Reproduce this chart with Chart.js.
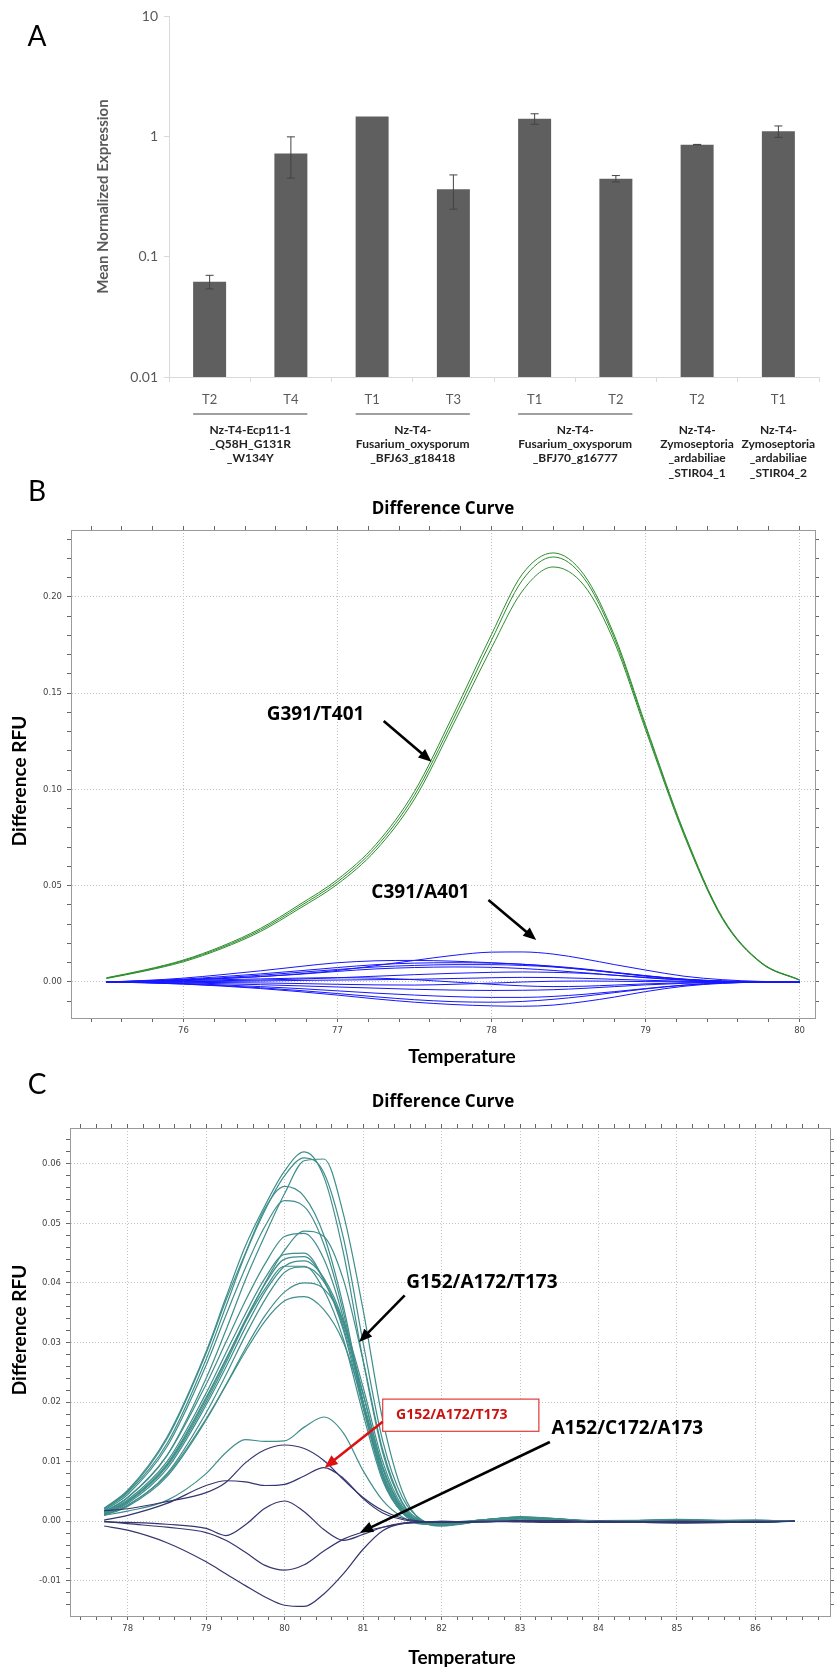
<!DOCTYPE html>
<html>
<head>
<meta charset="utf-8">
<script src="https://cdn.jsdelivr.net/npm/chart.js@4.4.1/dist/chart.umd.min.js"></script>
<style>
  body { margin: 0; background: #fff; }
  #page { position: relative; width: 835px; height: 1670px; overflow: hidden; }
  #page canvas { position: absolute; left: 0; }
</style>
</head>
<body>
<div id="page">
  <canvas id="chartA" width="835" height="490" style="top:0"></canvas>
  <canvas id="chartB" width="835" height="600" style="top:470px"></canvas>
  <canvas id="chartC" width="835" height="610" style="top:1060px"></canvas>
</div>
<script>
// ---- panel A: qPCR expression (log scale) ----
const sampleTicks = ['T2', 'T4', 'T1', 'T3', 'T1', 'T2', 'T2', 'T1'];
const meanExpr = [0.062, 0.72, 1.46, 0.363, 1.40, 0.445, 0.853, 1.10];
const exprErr = [0.008, 0.27, 0, 0.115, 0.14, 0.027, 0.004, 0.12];
const exprTicks = [0.01, 0.1, 1, 10];
const geneSpans = [[0, 1], [2, 3], [4, 5], [6, 6], [7, 7]];
const geneLabels = [
  ['Nz-T4-Ecp11-1', '_Q58H_G131R', '_W134Y'],
  ['Nz-T4-', 'Fusarium_oxysporum', '_BFJ63_g18418'],
  ['Nz-T4-', 'Fusarium_oxysporum', '_BFJ70_g16777'],
  ['Nz-T4-', 'Zymoseptoria', '_ardabiliae', '_STIR04_1'],
  ['Nz-T4-', 'Zymoseptoria', '_ardabiliae', '_STIR04_2'],
];

// ---- panel B: G391/T401 vs C391/A401 difference curves ----
const tempsB = [75.5, 75.75, 76, 76.25, 76.5, 76.75, 77, 77.25, 77.5, 77.75, 78, 78.2, 78.4, 78.6, 78.8, 79, 79.25, 79.5, 79.75, 80];
const greenRfuB = [
  [0.0022, 0.0063, 0.0114, 0.0186, 0.0278, 0.0400, 0.0532, 0.0715, 0.0990, 0.1385, 0.1805, 0.2118, 0.2228, 0.2115, 0.1795, 0.1335, 0.0778, 0.0334, 0.0102, 0.0011],
  [0.0020, 0.0060, 0.0110, 0.0180, 0.0270, 0.0390, 0.0520, 0.0700, 0.0970, 0.1360, 0.1775, 0.2086, 0.2207, 0.2097, 0.1780, 0.1324, 0.0770, 0.0330, 0.0100, 0.0010],
  [0.0018, 0.0057, 0.0105, 0.0174, 0.0262, 0.0380, 0.0508, 0.0685, 0.0950, 0.1335, 0.1735, 0.2030, 0.2155, 0.2060, 0.1760, 0.1310, 0.0762, 0.0326, 0.0098, 0.0009],
];
const blueRfuB = [
  [0, 0.0004, 0.0010, 0.0018, 0.0028, 0.0042, 0.0060, 0.0085, 0.0112, 0.0138, 0.0155, 0.0156, 0.0145, 0.0120, 0.0090, 0.0062, 0.0030, 0.0012, 0.0003, 0],
  [0, 0.0008, 0.0020, 0.0038, 0.0058, 0.0080, 0.0100, 0.0110, 0.0112, 0.0108, 0.0100, 0.0092, 0.0080, 0.0065, 0.0048, 0.0030, 0.0014, 0.0005, 0.0001, 0],
  [0, 0.0006, 0.0015, 0.0028, 0.0042, 0.0058, 0.0075, 0.0090, 0.0098, 0.0100, 0.0098, 0.0092, 0.0082, 0.0068, 0.0050, 0.0033, 0.0015, 0.0005, 0.0001, 0],
  [0, 0.0005, 0.0012, 0.0022, 0.0035, 0.0050, 0.0065, 0.0078, 0.0086, 0.0090, 0.0090, 0.0086, 0.0078, 0.0065, 0.0048, 0.0032, 0.0014, 0.0004, 0.0001, 0],
  [0, 0.0004, 0.0010, 0.0018, 0.0028, 0.0040, 0.0055, 0.0068, 0.0075, 0.0078, 0.0076, 0.0070, 0.0060, 0.0048, 0.0035, 0.0022, 0.0010, 0.0003, 0.0001, 0],
  [0, 0.0002, 0.0004, 0.0007, 0.0010, 0.0015, 0.0022, 0.0030, 0.0038, 0.0045, 0.0050, 0.0052, 0.0050, 0.0045, 0.0035, 0.0024, 0.0011, 0.0003, 0.0001, 0],
  [0, 0.0001, 0.0002, 0.0003, 0.0005, 0.0008, 0.0010, 0.0012, 0.0014, 0.0018, 0.0022, 0.0024, 0.0023, 0.0019, 0.0014, 0.0009, 0.0004, 0.0001, 0, 0],
  [0, -0.0001, -0.0002, -0.0003, -0.0005, -0.0008, -0.0012, -0.0015, -0.0016, -0.0012, -0.0006, 0.0000, 0.0004, 0.0005, 0.0004, 0.0002, 0.0001, 0, 0, 0],
  [0, -0.0002, -0.0005, -0.0009, -0.0014, -0.0020, -0.0026, -0.0032, -0.0038, -0.0042, -0.0044, -0.0043, -0.0040, -0.0033, -0.0024, -0.0015, -0.0007, -0.0002, 0, 0],
  [0, -0.0003, -0.0008, -0.0015, -0.0024, -0.0034, -0.0046, -0.0058, -0.0068, -0.0076, -0.0080, -0.0080, -0.0075, -0.0064, -0.0050, -0.0034, -0.0016, -0.0005, -0.0001, 0],
  [0, -0.0004, -0.0010, -0.0019, -0.0030, -0.0044, -0.0060, -0.0077, -0.0092, -0.0102, -0.0105, -0.0101, -0.0090, -0.0074, -0.0055, -0.0036, -0.0017, -0.0005, -0.0001, 0],
  [0, -0.0004, -0.0011, -0.0021, -0.0034, -0.0050, -0.0068, -0.0088, -0.0105, -0.0117, -0.0124, -0.0126, -0.0120, -0.0102, -0.0078, -0.0050, -0.0022, -0.0007, -0.0001, 0],
  [0, 0.0003, 0.0007, 0.0012, 0.0016, 0.0020, 0.0022, 0.0020, 0.0012, 0.0000, -0.0012, -0.0020, -0.0024, -0.0022, -0.0016, -0.0010, -0.0004, -0.0001, 0, 0],
];
const tempTicksB = [76, 77, 78, 79, 80];
const rfuTicksB = [0, 0.05, 0.10, 0.15, 0.20];

// ---- panel C: G152/A172/T173 vs A152/C172/A173 ----
const tempsC = [77.7, 78, 78.5, 79, 79.25, 79.5, 79.75, 80, 80.25, 80.5, 80.75, 81, 81.25, 81.5, 81.75, 82, 82.5, 83, 83.5, 84, 85, 86, 86.5];
const tealRfuC = [
  [0.0022, 0.0052, 0.0141, 0.0285, 0.0375, 0.0462, 0.0530, 0.0588, 0.0620, 0.0578, 0.0450, 0.0270, 0.0115, 0.0030, -0.0004, -0.0006, 0.0002, 0.0006, 0.0003, 0.0000, 0.0002, -0.0001, 0.0000],
  [0.0015, 0.0040, 0.0110, 0.0240, 0.0320, 0.0405, 0.0480, 0.0550, 0.0605, 0.0608, 0.0515, 0.0355, 0.0170, 0.0050, 0.0000, -0.0008, 0.0000, 0.0008, 0.0004, -0.0002, 0.0001, 0.0002, 0.0000],
  [0.0020, 0.0048, 0.0130, 0.0272, 0.0360, 0.0448, 0.0522, 0.0580, 0.0610, 0.0585, 0.0475, 0.0300, 0.0135, 0.0040, 0.0002, -0.0007, 0.0001, 0.0007, 0.0002, -0.0001, 0.0003, 0.0000, 0.0001],
  [0.0021, 0.0050, 0.0138, 0.0282, 0.0370, 0.0450, 0.0525, 0.0562, 0.0545, 0.0480, 0.0360, 0.0200, 0.0075, 0.0015, -0.0004, -0.0005, 0.0002, 0.0005, 0.0002, 0.0000, -0.0001, 0.0002, 0.0000],
  [0.0018, 0.0045, 0.0125, 0.0262, 0.0345, 0.0425, 0.0495, 0.0538, 0.0528, 0.0465, 0.0350, 0.0195, 0.0072, 0.0014, -0.0003, -0.0006, 0.0000, 0.0004, 0.0003, 0.0001, 0.0002, -0.0001, 0.0000],
  [0.0016, 0.0040, 0.0110, 0.0230, 0.0300, 0.0370, 0.0432, 0.0478, 0.0483, 0.0440, 0.0340, 0.0200, 0.0080, 0.0018, -0.0002, -0.0005, 0.0001, 0.0006, 0.0002, -0.0001, 0.0001, 0.0001, 0.0000],
  [0.0012, 0.0032, 0.0092, 0.0200, 0.0265, 0.0335, 0.0400, 0.0455, 0.0487, 0.0478, 0.0405, 0.0270, 0.0120, 0.0032, 0.0000, -0.0007, 0.0000, 0.0006, 0.0004, 0.0000, 0.0002, 0.0000, 0.0001],
  [0.0015, 0.0036, 0.0100, 0.0215, 0.0282, 0.0348, 0.0408, 0.0448, 0.0450, 0.0405, 0.0320, 0.0190, 0.0075, 0.0016, -0.0003, -0.0006, 0.0000, 0.0005, 0.0002, 0.0000, 0.0001, 0.0000, 0.0000],
  [0.0013, 0.0033, 0.0094, 0.0205, 0.0270, 0.0338, 0.0398, 0.0440, 0.0444, 0.0405, 0.0325, 0.0200, 0.0082, 0.0018, -0.0002, -0.0004, 0.0002, 0.0006, 0.0003, -0.0001, 0.0000, 0.0001, 0.0000],
  [0.0012, 0.0030, 0.0088, 0.0195, 0.0258, 0.0325, 0.0385, 0.0428, 0.0437, 0.0408, 0.0335, 0.0215, 0.0090, 0.0020, -0.0001, -0.0005, 0.0001, 0.0005, 0.0002, 0.0000, 0.0002, 0.0000, 0.0000],
  [0.0014, 0.0034, 0.0096, 0.0208, 0.0272, 0.0335, 0.0390, 0.0428, 0.0428, 0.0388, 0.0305, 0.0180, 0.0068, 0.0014, -0.0004, -0.0006, 0.0000, 0.0004, 0.0002, 0.0001, 0.0000, -0.0001, 0.0000],
  [0.0010, 0.0027, 0.0080, 0.0182, 0.0245, 0.0312, 0.0372, 0.0418, 0.0427, 0.0402, 0.0330, 0.0212, 0.0092, 0.0022, 0.0000, -0.0004, 0.0002, 0.0007, 0.0003, 0.0000, 0.0001, 0.0001, 0.0000],
  [0.0010, 0.0025, 0.0075, 0.0170, 0.0228, 0.0290, 0.0345, 0.0385, 0.0400, 0.0390, 0.0335, 0.0225, 0.0100, 0.0025, 0.0001, -0.0005, 0.0001, 0.0006, 0.0004, 0.0000, 0.0002, 0.0000, 0.0000],
  [0.0011, 0.0027, 0.0078, 0.0172, 0.0228, 0.0285, 0.0336, 0.0370, 0.0377, 0.0355, 0.0300, 0.0200, 0.0088, 0.0020, -0.0001, -0.0006, 0.0000, 0.0004, 0.0002, 0.0000, 0.0001, 0.0000, 0.0000],
  [0.0010, 0.0017, 0.0035, 0.0080, 0.0115, 0.0137, 0.0134, 0.0135, 0.0158, 0.0175, 0.0148, 0.0085, 0.0035, 0.0007, -0.0005, -0.0003, 0.0002, 0.0005, 0.0003, 0.0000, 0.0001, 0.0000, 0.0000],
];
const navyRfuC = [
  [0.0018, 0.0021, 0.0033, 0.0048, 0.0065, 0.0098, 0.0120, 0.0128, 0.0122, 0.0102, 0.0070, 0.0040, 0.0018, 0.0005, 0.0000, -0.0002, -0.0001, 0.0001, 0.0000, -0.0001, -0.0002, 0.0000, 0.0000],
  [0.0002, 0.0010, 0.0030, 0.0060, 0.0068, 0.0066, 0.0060, 0.0062, 0.0076, 0.0090, 0.0072, 0.0038, 0.0014, 0.0003, -0.0001, -0.0002, 0.0000, 0.0000, -0.0001, 0.0000, -0.0003, -0.0001, 0.0000],
  [-0.0001, -0.0002, -0.0005, -0.0012, -0.0024, -0.0006, 0.0022, 0.0034, 0.0016, -0.0014, -0.0032, -0.0022, -0.0010, -0.0003, -0.0001, -0.0001, 0.0000, -0.0001, -0.0002, 0.0000, -0.0001, -0.0002, 0.0000],
  [0.0000, -0.0004, -0.0010, -0.0019, -0.0032, -0.0052, -0.0074, -0.0082, -0.0073, -0.0050, -0.0030, -0.0018, -0.0010, -0.0004, -0.0001, 0.0000, -0.0001, 0.0000, 0.0001, -0.0001, 0.0000, -0.0001, 0.0000],
  [-0.0008, -0.0015, -0.0036, -0.0068, -0.0088, -0.0108, -0.0127, -0.0141, -0.0143, -0.0122, -0.0088, -0.0047, -0.0016, -0.0004, -0.0002, 0.0000, -0.0001, 0.0001, 0.0000, -0.0002, 0.0000, -0.0001, 0.0000],
];
const tempTicksC = [78, 79, 80, 81, 82, 83, 84, 85, 86];
const rfuTicksC = [-0.01, 0, 0.01, 0.02, 0.03, 0.04, 0.05, 0.06];

Chart.defaults.font.family = "Lato, 'Open Sans', sans-serif";
Chart.defaults.animation = false;

function stepTicks(from, to, step) {
  const out = [];
  for (let k = 0; from + k * step <= to + 1e-9; k++) out.push(+(from + k * step).toFixed(4));
  return out;
}

function isMajor(list, v) {
  return list.some((m) => Math.abs(m - v) < 1e-6);
}

function textPlugin(items) {
  return {
    id: 'panelText',
    afterDraw(chart) {
      const ctx = chart.ctx;
      items.forEach((t) => {
        ctx.save();
        ctx.font = t.font;
        ctx.fillStyle = t.color || '#000';
        ctx.textAlign = 'center';
        ctx.textBaseline = 'middle';
        ctx.translate(t.x, t.y);
        if (t.rotate) ctx.rotate(-Math.PI / 2);
        ctx.fillText(t.text, 0, 0);
        ctx.restore();
      });
    },
  };
}

const errorBarsPlugin = {
  id: 'errorBars',
  afterDatasetsDraw(chart) {
    const { ctx, scales: { y } } = chart;
    const bars = chart.getDatasetMeta(0).data;
    ctx.save();
    ctx.strokeStyle = '#444';
    ctx.lineWidth = 1;
    bars.forEach((bar, i) => {
      if (!exprErr[i]) return;
      const top = y.getPixelForValue(meanExpr[i] + exprErr[i]);
      const bot = y.getPixelForValue(meanExpr[i] - exprErr[i]);
      ctx.beginPath();
      ctx.moveTo(bar.x, top); ctx.lineTo(bar.x, bot);
      ctx.moveTo(bar.x - 4, top); ctx.lineTo(bar.x + 4, top);
      ctx.moveTo(bar.x - 4, bot); ctx.lineTo(bar.x + 4, bot);
      ctx.stroke();
    });
    ctx.restore();
  },
};

const geneGroupPlugin = {
  id: 'geneGroups',
  afterDraw(chart) {
    const { ctx, scales: { x } } = chart;
    const half = chart.getDatasetMeta(0).data[0].width / 2;
    ctx.save();
    ctx.strokeStyle = '#808080';
    ctx.lineWidth = 1.5;
    ctx.fillStyle = '#222';
    ctx.font = "bold 12px Lato, sans-serif";
    ctx.textAlign = 'center';
    ctx.textBaseline = 'middle';
    geneSpans.forEach(([a, b], g) => {
      const left = x.getPixelForValue(a) - half;
      const right = x.getPixelForValue(b) + half;
      if (b > a) {
        ctx.beginPath();
        ctx.moveTo(left, 414); ctx.lineTo(right, 414);
        ctx.stroke();
      }
      geneLabels[g].forEach((line, k) => ctx.fillText(line, (left + right) / 2, 430 + k * 14.3));
    });
    ctx.restore();
  },
};

new Chart(document.getElementById('chartA'), {
  type: 'bar',
  data: {
    labels: sampleTicks,
    datasets: [{
      data: meanExpr,
      backgroundColor: '#5f5f5f',
      borderWidth: 0,
      barPercentage: 0.406,
      categoryPercentage: 1,
    }],
  },
  options: {
    responsive: false,
    layout: { padding: { left: 0, top: 16, right: 16, bottom: 0 } },
    plugins: { legend: { display: false }, tooltip: { enabled: false } },
    scales: {
      x: {
        grid: { offset: true, drawOnChartArea: false, tickLength: 5, tickColor: '#d9d9d9' },
        border: { color: '#d9d9d9' },
        ticks: { color: '#595959', font: { size: 13 }, padding: 10 },
        afterFit: (s) => { s.height = 113; },
      },
      y: {
        type: 'logarithmic',
        min: 0.01,
        max: 10,
        afterBuildTicks: (s) => { s.ticks = exprTicks.map((v) => ({ value: v })); },
        ticks: { color: '#595959', font: { size: 14 }, padding: 6, callback: (v) => String(v) },
        grid: { drawOnChartArea: false, tickLength: 5, tickColor: '#d9d9d9' },
        border: { color: '#d9d9d9' },
        title: {
          display: true,
          text: 'Mean Normalized Expression',
          color: '#595959',
          font: { size: 15, weight: 'bold' },
          padding: { top: 94, bottom: 0 },
        },
        afterFit: (s) => { s.width = 169; },
      },
    },
  },
  plugins: [errorBarsPlugin, geneGroupPlugin,
    textPlugin([{ text: 'A', x: 37, y: 37, font: "28px Lato, sans-serif" }])],
});

// ---- melt difference-curve panels ----
function meltAxis(pos, min, max, minor, major, fmt, main, fitSize) {
  return {
    type: 'linear',
    position: pos,
    min,
    max,
    afterBuildTicks: (s) => { s.ticks = minor.map((v) => ({ value: v })); },
    afterFit: (s) => { if (s.isHorizontal()) s.height = fitSize; else s.width = fitSize; },
    ticks: {
      display: main,
      autoSkip: false,
      maxRotation: 0,
      color: '#444',
      padding: pos === 'bottom' ? 4 : 5,
      font: { family: 'DejaVu Sans', size: 8.5 },
      callback: (v) => (isMajor(major, v) ? fmt(v) : ''),
    },
    grid: {
      drawOnChartArea: main,
      color: (c) => (c.tick && isMajor(major, c.tick.value) ? '#c2c2c2' : 'rgba(0,0,0,0)'),
      tickColor: '#666',
      tickLength: 4,
      lineWidth: 1,
    },
    border: { color: '#9a9a9a', width: 1, dash: [1, 2] },
  };
}

function arrow(ctx, x1, y1, x2, y2, color) {
  const a = Math.atan2(y2 - y1, x2 - x1);
  const len = 13, wing = 5.5;
  const cos = Math.cos(a), sin = Math.sin(a);
  ctx.strokeStyle = color;
  ctx.fillStyle = color;
  ctx.lineWidth = 2.6;
  ctx.beginPath();
  ctx.moveTo(x1, y1);
  ctx.lineTo(x2 - len * 0.7 * cos, y2 - len * 0.7 * sin);
  ctx.stroke();
  ctx.beginPath();
  ctx.moveTo(x2, y2);
  ctx.lineTo(x2 - len * cos + wing * sin, y2 - len * sin - wing * cos);
  ctx.lineTo(x2 - len * cos - wing * sin, y2 - len * sin + wing * cos);
  ctx.closePath();
  ctx.fill();
}

function annotationPlugin(notes) {
  return {
    id: 'notes',
    afterDatasetsDraw(chart) {
      const { ctx, scales: { x, y } } = chart;
      const px = (v) => x.getPixelForValue(v);
      const py = (v) => y.getPixelForValue(v);
      ctx.save();
      (notes.boxes || []).forEach((b) => {
        const l = px(b.x1), r = px(b.x2), t = py(b.y1), btm = py(b.y2);
        ctx.fillStyle = '#fff';
        ctx.fillRect(l, t, r - l, btm - t);
        ctx.strokeStyle = '#e03a3a';
        ctx.lineWidth = 1.2;
        ctx.strokeRect(l, t, r - l, btm - t);
        ctx.fillStyle = '#cc1111';
        ctx.font = "bold 14px 'Open Sans', sans-serif";
        ctx.textAlign = 'left';
        ctx.textBaseline = 'middle';
        ctx.fillText(b.text, px(b.tx), py(b.ty));
      });
      notes.arrows.forEach((a) => arrow(ctx, px(a.from[0]), py(a.from[1]), px(a.to[0]), py(a.to[1]), a.color || '#000'));
      ctx.fillStyle = '#000';
      ctx.font = "bold 19px 'Open Sans', sans-serif";
      ctx.textAlign = 'left';
      ctx.textBaseline = 'middle';
      notes.labels.forEach((l) => ctx.fillText(l.text, px(l.x), py(l.y)));
      ctx.restore();
    },
  };
}

function lineSets(temps, rows, color, width) {
  return rows.map((vals) => ({
    data: temps.map((t, i) => ({ x: t, y: vals[i] })),
    borderColor: color,
    borderWidth: width,
    pointRadius: 0,
    fill: false,
    cubicInterpolationMode: 'monotone',
  }));
}

function titleTexts(letter, top, rfuY, tempY) {
  return [
    { text: letter, x: 37, y: top, font: "28px Lato, sans-serif" },
    { text: 'Difference Curve', x: 443, y: top + 17, font: "bold 17px 'Open Sans', sans-serif" },
    { text: 'Difference RFU', x: 20, y: rfuY, font: "bold 19px Lato, sans-serif", rotate: true },
    { text: 'Temperature', x: 462, y: tempY, font: "bold 19px Lato, sans-serif" },
  ];
}

const fmt2 = (v) => v.toFixed(2);
const fmt0 = (v) => String(Math.round(v));

const minorTempB = stepTicks(75.4, 80.0, 0.2);
const minorRfuB = stepTicks(-0.01, 0.23, 0.01);
new Chart(document.getElementById('chartB'), {
  type: 'line',
  data: {
    datasets: [
      ...lineSets(tempsB, greenRfuB, '#2c8c2c', 1),
      ...lineSets(tempsB, blueRfuB, '#1616ff', 1),
    ],
  },
  options: {
    responsive: false,
    layout: { padding: { left: 0, top: 60, right: 20, bottom: 0 } },
    plugins: { legend: { display: false }, tooltip: { enabled: false } },
    scales: {
      x: meltAxis('bottom', 75.27, 80.1, minorTempB, tempTicksB, fmt0, true, 52),
      y: meltAxis('left', -0.0187, 0.2347, minorRfuB, rfuTicksB, fmt2, true, 71),
      x2: meltAxis('top', 75.27, 80.1, minorTempB, tempTicksB, fmt0, false, 0),
      y2: meltAxis('right', -0.0187, 0.2347, minorRfuB, rfuTicksB, fmt2, false, 0),
    },
  },
  plugins: [
    annotationPlugin({
      labels: [
        { text: 'G391/T401', x: 76.54, y: 0.1391 },
        { text: 'C391/A401', x: 77.22, y: 0.0464 },
      ],
      arrows: [
        { from: [77.30, 0.1355], to: [77.61, 0.1144] },
        { from: [77.98, 0.0426], to: [78.29, 0.0218] },
      ],
    }),
    textPlugin(titleTexts('B', 22, 311, 587)),
  ],
});

const minorTempC = stepTicks(77.4, 86.8, 0.2);
const minorRfuC = stepTicks(-0.014, 0.064, 0.002);
new Chart(document.getElementById('chartC'), {
  type: 'line',
  data: {
    datasets: [
      ...lineSets(tempsC, navyRfuC, '#35356f', 1.2),
      ...lineSets(tempsC, tealRfuC, '#3f8e8b', 1.2),
    ],
  },
  options: {
    responsive: false,
    layout: { padding: { left: 0, top: 68, right: 5, bottom: 0 } },
    plugins: { legend: { display: false }, tooltip: { enabled: false } },
    scales: {
      x: meltAxis('bottom', 77.265, 86.95, minorTempC, tempTicksC, fmt0, true, 54),
      y: meltAxis('left', -0.0159, 0.066, minorRfuC, rfuTicksC, fmt2, true, 70),
      x2: meltAxis('top', 77.265, 86.95, minorTempC, tempTicksC, fmt0, false, 0),
      y2: meltAxis('right', -0.0159, 0.066, minorRfuC, rfuTicksC, fmt2, false, 0),
    },
  },
  plugins: [
    annotationPlugin({
      labels: [
        { text: 'G152/A172/T173', x: 81.55, y: 0.0401 },
        { text: 'A152/C172/A173', x: 83.40, y: 0.01555 },
      ],
      arrows: [
        { from: [81.53, 0.0379], to: [80.95, 0.0301] },
        { from: [83.38, 0.0133], to: [80.96, -0.0019] },
        { from: [81.25, 0.0167], to: [80.51, 0.0090], color: '#dd1111' },
      ],
      boxes: [
        { x1: 81.25, x2: 83.24, y1: 0.0205, y2: 0.0151, text: 'G152/A172/T173', tx: 81.42, ty: 0.0178 },
      ],
    }),
    textPlugin(titleTexts('C', 25, 270, 598)),
  ],
});
</script>
</body>
</html>
